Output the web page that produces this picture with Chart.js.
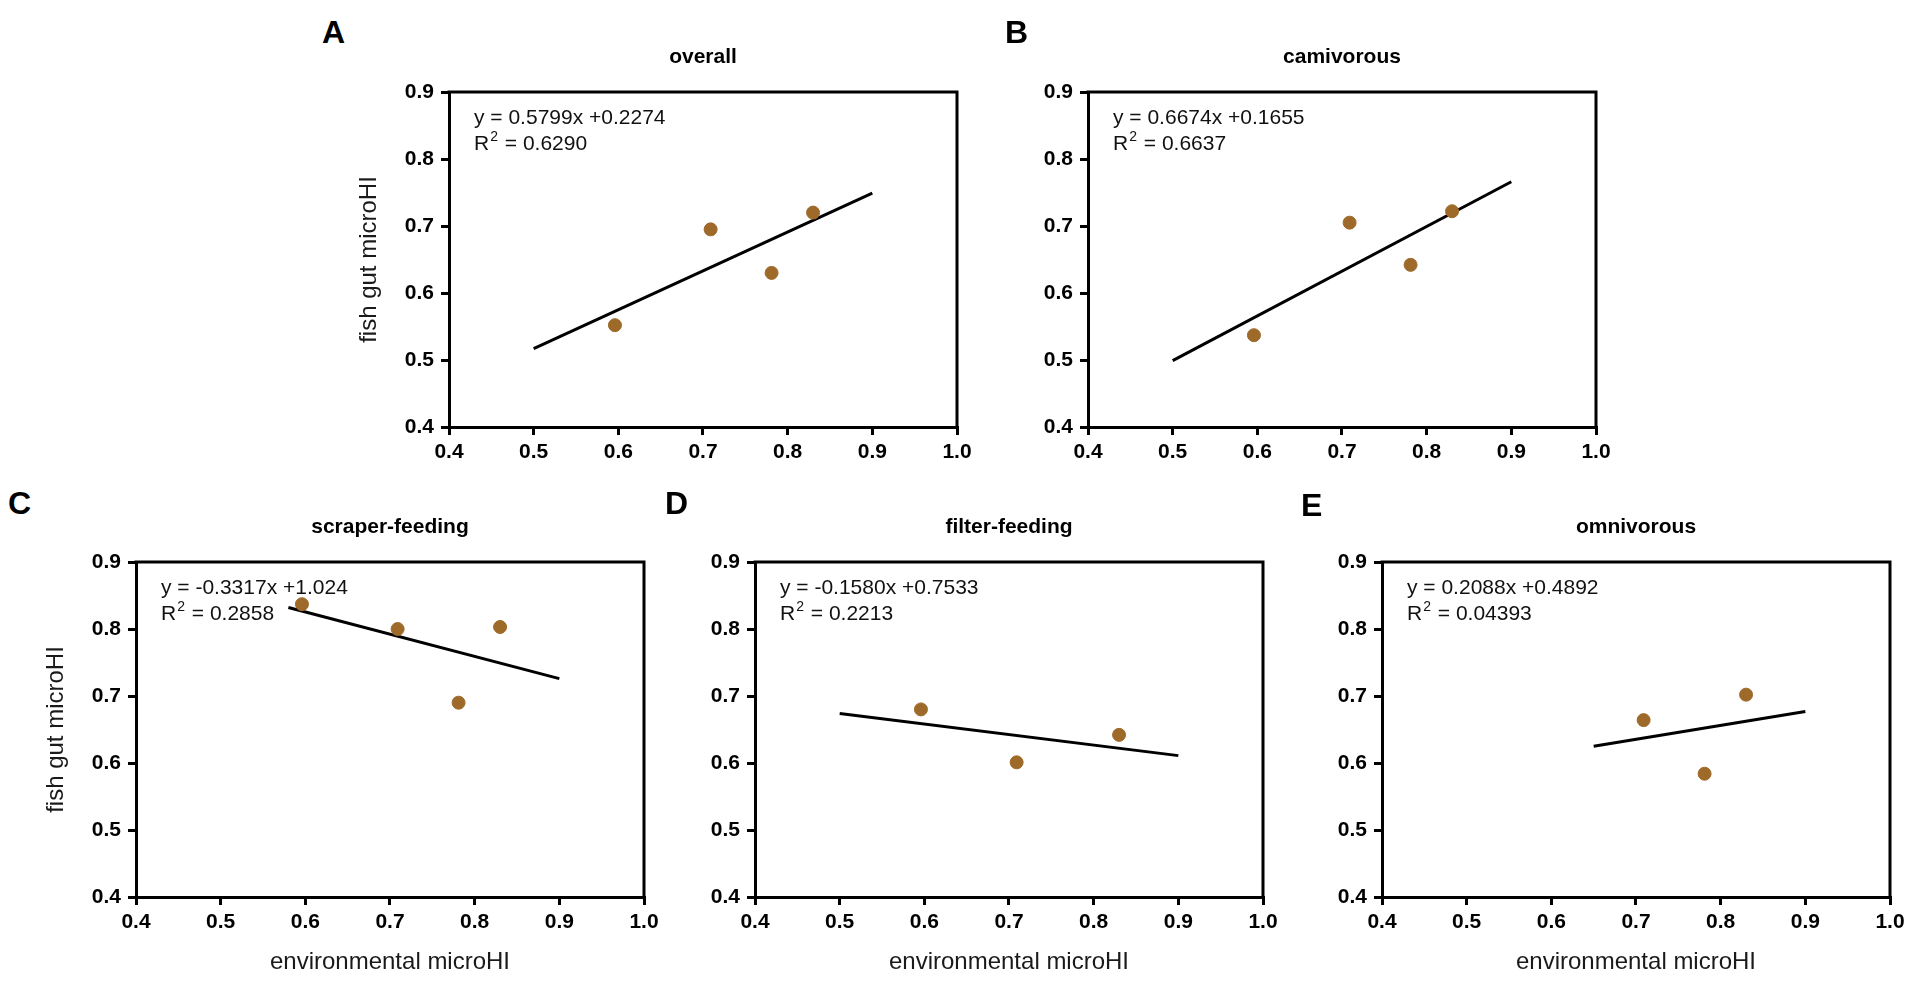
<!DOCTYPE html>
<html>
<head>
<meta charset="utf-8">
<title>microHI regressions</title>
<script src="https://cdn.jsdelivr.net/npm/chart.js@4.4.1/dist/chart.umd.min.js"></script>
<style>
  html, body { margin: 0; padding: 0; background: #fff; }
  #page { position: relative; width: 1910px; height: 981px; overflow: hidden; background: #fff; }
  #page canvas { position: absolute; }
  .letter { position: absolute; font: bold 32px "Liberation Sans", Arial, sans-serif; line-height: 32px; color: #000; }
</style>
</head>
<body>
<div id="page"></div>
<script>
// values
var panelLetters = ['A', 'B', 'C', 'D', 'E'];
var panelTitles = ['overall', 'camivorous', 'scraper-feeding', 'filter-feeding', 'omnivorous'];
var envMicroHI = [0.596, 0.709, 0.781, 0.830];
var gutOverall = [0.552, 0.695, 0.630, 0.720];
var gutCarnivorous = [0.537, 0.705, 0.642, 0.722];
var gutScraper = [0.837, 0.800, 0.690, 0.803];
var gutFilter = [0.680, 0.601, null, 0.642];
var gutOmnivorous = [null, 0.664, 0.584, 0.702];
var fitFromX = [0.50, 0.50, 0.58, 0.50, 0.65];
var fitToX = [0.90, 0.90, 0.90, 0.90, 0.90];
var fitFromY = [0.517, 0.499, 0.832, 0.674, 0.625];
var fitToY = [0.749, 0.766, 0.726, 0.611, 0.677];
var equations = ['y = 0.5799x +0.2274', 'y = 0.6674x +0.1655', 'y = -0.3317x +1.024', 'y = -0.1580x +0.7533', 'y = 0.2088x +0.4892'];
var rSquared = ['0.6290', '0.6637', '0.2858', '0.2213', '0.04393'];
var xTickValues = [0.4, 0.5, 0.6, 0.7, 0.8, 0.9, 1.0];
var yTickValues = [0.4, 0.5, 0.6, 0.7, 0.8, 0.9];
var yAxisTitle = 'fish gut microHI';
var xAxisTitle = 'environmental microHI';

var gutSeries = [gutOverall, gutCarnivorous, gutScraper, gutFilter, gutOmnivorous];

// layout (plot box of each panel, in page pixels)
var boxes = [
	{ left: 449, top: 92, yTitle: true, xTitle: false },
	{ left: 1088, top: 92, yTitle: false, xTitle: false },
	{ left: 136, top: 562, yTitle: true, xTitle: true },
	{ left: 755, top: 562, yTitle: false, xTitle: true },
	{ left: 1382, top: 562, yTitle: false, xTitle: true }
];
var letterPos = [[322, 16], [1005, 16], [8, 487], [665, 487], [1301, 489]];
var boxW = 508, boxH = 335;
var padLeft = 100, padTop = 70, padRight = 22, padBottom = 80;
var dotColor = '#9e6a2a';
var FONT = '"Liberation Sans", Arial, sans-serif';

// top and right edges of the frame
var framePlugin = {
	id: 'frame',
	afterDraw: function(chart)
	{
		var a = chart.chartArea, ctx = chart.ctx;
		ctx.save();
		ctx.strokeStyle = '#000';
		ctx.lineWidth = 3;
		ctx.lineCap = 'square';
		ctx.beginPath();
		ctx.moveTo(a.left, a.top);
		ctx.lineTo(a.right, a.top);
		ctx.lineTo(a.right, a.bottom);
		ctx.stroke();
		ctx.restore();
	}
};

// regression equation and R squared, top left inside the box
var fitLabelPlugin = {
	id: 'fitLabel',
	afterDatasetsDraw: function(chart, args, opts)
	{
		var a = chart.chartArea, ctx = chart.ctx;
		var x = a.left + 25;
		ctx.save();
		ctx.fillStyle = '#111';
		ctx.textBaseline = 'middle';
		ctx.textAlign = 'left';
		ctx.font = '21px ' + FONT;
		ctx.fillText(opts.equation, x, a.top + 26);
		var y2 = a.top + 52;
		ctx.fillText('R', x, y2);
		var rw = ctx.measureText('R').width;
		ctx.font = '14px ' + FONT;
		ctx.fillText('2', x + rw + 1, y2 - 7);
		var sw = ctx.measureText('2').width;
		ctx.font = '21px ' + FONT;
		ctx.fillText(' = ' + opts.r2, x + rw + sw + 2, y2);
		ctx.restore();
	}
};

function makePanel(i)
{
	var b = boxes[i];
	var canvas = document.createElement('canvas');
	var w = padLeft + boxW + padRight;
	var h = padTop + boxH + padBottom;
	canvas.width = w;
	canvas.height = h;
	canvas.style.left = (b.left - padLeft) + 'px';
	canvas.style.top = (b.top - padTop) + 'px';
	canvas.style.width = w + 'px';
	canvas.style.height = h + 'px';
	document.getElementById('page').appendChild(canvas);

	var pts = [];
	for (var k = 0; k < envMicroHI.length; k++)
	{
		if (gutSeries[i][k] !== null) pts.push({ x: envMicroHI[k], y: gutSeries[i][k] });
	}

	var letter = document.createElement('div');
	letter.className = 'letter';
	letter.textContent = panelLetters[i];
	letter.style.left = letterPos[i][0] + 'px';
	letter.style.top = letterPos[i][1] + 'px';
	document.getElementById('page').appendChild(letter);

	var chartConfig =
	{
		type: 'scatter',
		data:
		{
			datasets: [
				{
					label: panelTitles[i],
					data: pts,
					order: 0,
					pointRadius: 6.5,
					pointHoverRadius: 6.5,
					backgroundColor: dotColor,
					borderColor: dotColor,
					borderWidth: 1
				},
				{
					type: 'line',
					label: 'fit',
					data: [{ x: fitFromX[i], y: fitFromY[i] }, { x: fitToX[i], y: fitToY[i] }],
					order: 1,
					showLine: true,
					pointRadius: 0,
					borderColor: '#000',
					borderWidth: 3,
					fill: false
				}
			]
		},
		options:
		{
			responsive: false,
			animation: false,
			devicePixelRatio: 1,
			events: [],
			layout: { padding: { left: 0, top: 0, right: padRight, bottom: 0 } },
			plugins:
			{
				legend: { display: false },
				tooltip: { enabled: false },
				title:
				{
					display: true,
					text: panelTitles[i],
					fullSize: false,
					color: '#000',
					font: { family: FONT, size: 21, weight: 'bold', lineHeight: 1.2 },
					padding: { top: 23, bottom: 21.8 }
				},
				fitLabel: { equation: equations[i], r2: rSquared[i] }
			},
			scales:
			{
				x:
				{
					type: 'linear',
					min: 0.4,
					max: 1.0,
					afterBuildTicks: function(s) { s.ticks = xTickValues.map(function(v) { return { value: v }; }); },
					afterFit: function(s) { s.height = padBottom; },
					ticks:
					{
						color: '#000',
						padding: 5,
						maxRotation: 0,
						font: { family: FONT, size: 21, weight: 'bold', lineHeight: 1.2 },
						callback: function(v) { return Number(v).toFixed(1); }
					},
					grid: { display: true, drawOnChartArea: false, drawTicks: true, tickLength: 8, lineWidth: 3, color: '#000' },
					border: { display: true, width: 3, color: '#000' },
					title:
					{
						display: b.xTitle,
						text: xAxisTitle,
						color: '#1a1a1a',
						font: { family: FONT, size: 24, lineHeight: 1.2 },
						padding: { top: 0, bottom: 0.6 }
					}
				},
				y:
				{
					type: 'linear',
					min: 0.4,
					max: 0.9,
					afterBuildTicks: function(s) { s.ticks = yTickValues.map(function(v) { return { value: v }; }); },
					afterFit: function(s) { s.width = padLeft; },
					ticks:
					{
						color: '#000',
						padding: 7,
						font: { family: FONT, size: 21, weight: 'bold', lineHeight: 1.2 },
						callback: function(v) { return Number(v).toFixed(1); }
					},
					grid: { display: true, drawOnChartArea: false, drawTicks: true, tickLength: 8, lineWidth: 3, color: '#000' },
					border: { display: true, width: 3, color: '#000' },
					title:
					{
						display: b.yTitle,
						text: yAxisTitle,
						color: '#1a1a1a',
						font: { family: FONT, size: 24, lineHeight: 1.2 },
						padding: { top: 5.6, bottom: 0 }
					}
				}
			}
		},
		plugins: [framePlugin, fitLabelPlugin]
	};
	return new Chart(canvas.getContext('2d'), chartConfig);
}

window.onload = () =>
{
	for (var i = 0; i < boxes.length; i++) makePanel(i);
};
</script>
</body>
</html>
